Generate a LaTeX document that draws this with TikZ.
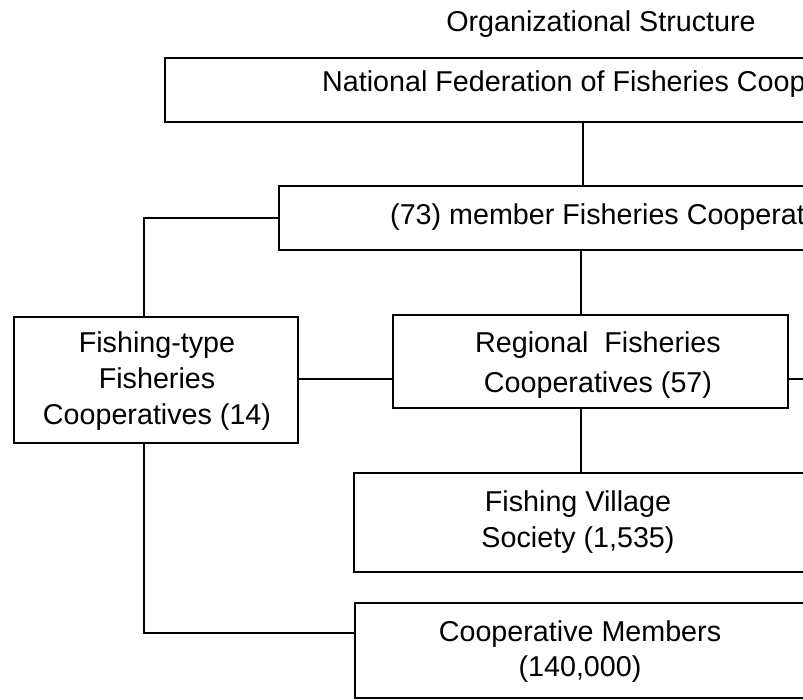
\documentclass[tikz,border=0pt]{standalone}
\usepackage{fontspec}
\setmainfont{Liberation Sans}
\begin{document}
\begin{tikzpicture}[x=1pt,y=-1pt,
  box/.style={draw, line width=2.2pt, rectangle, inner sep=0pt},
  lbl/.style={font=\fontsize{28.7}{36}\selectfont, align=center, inner sep=0pt},
  lblwide/.style={font=\fontsize{28.7}{40}\selectfont, align=center, inner sep=0pt},
  conn/.style={line width=2.2pt}]
\useasboundingbox (0,0) rectangle (803,700);
\fill[white] (0,0) rectangle (803,700);
\clip (0,0) rectangle (803,700);
\node[lbl, anchor=base] (title) at (601,32) {Organizational Structure};
% boxes
\node[box, minimum width=835pt, minimum height=64pt] (box1) at (582.5,90) {};
\node[box, minimum width=621pt, minimum height=64pt] (box2) at (589.5,218) {};
\node[box, minimum width=284pt, minimum height=126pt] (box3) at (156,380) {};
\node[box, minimum width=395pt, minimum height=93pt] (box4) at (590.5,361.5) {};
\node[box, minimum width=546pt, minimum height=99pt] (box5) at (627,522.5) {};
\node[box, minimum width=545pt, minimum height=95pt] (box6) at (627.5,650.5) {};
% texts
\node[lbl, anchor=base west] (t1) at (322,92) {National Federation of Fisheries Coop};
\node[lbl, anchor=base west] (t2) at (390,225) {(73) member Fisheries Cooperat};
\node[lbl] (t3) at (157,381.5) {Fishing-type\\Fisheries\\Cooperatives (14)};
\node[lblwide] (t4) at (598,365.5) {Regional~~Fisheries\\Cooperatives (57)};
\node[lbl] (t5) at (578,522.5) {Fishing Village\\Society (1,535)};
\node[font=\fontsize{28.7}{35}\selectfont, align=center, inner sep=0pt] (t6) at (580,652) {Cooperative Members\\(140,000)};
% connectors
\coordinate (ca) at (583,0);
\coordinate (cb) at (581,0);
\coordinate (cl) at (144,0);
\coordinate (m) at (0,379);
\coordinate (r) at (803,379);
\coordinate (b6) at (0,633);
\draw[conn] (box1.south -| ca) -- (box2.north -| ca);
\draw[conn] (box2.west) -| (box3.north -| cl);
\draw[conn] (box2.south -| cb) -- (box4.north -| cb);
\draw[conn] (box3.east |- m) -- (box4.west |- m);
\draw[conn] (box4.east |- r) -- (r);
\draw[conn] (box4.south -| cb) -- (box5.north -| cb);
\draw[conn] (box3.south -| cl) |- (box6.west |- b6);
\end{tikzpicture}
\end{document}
